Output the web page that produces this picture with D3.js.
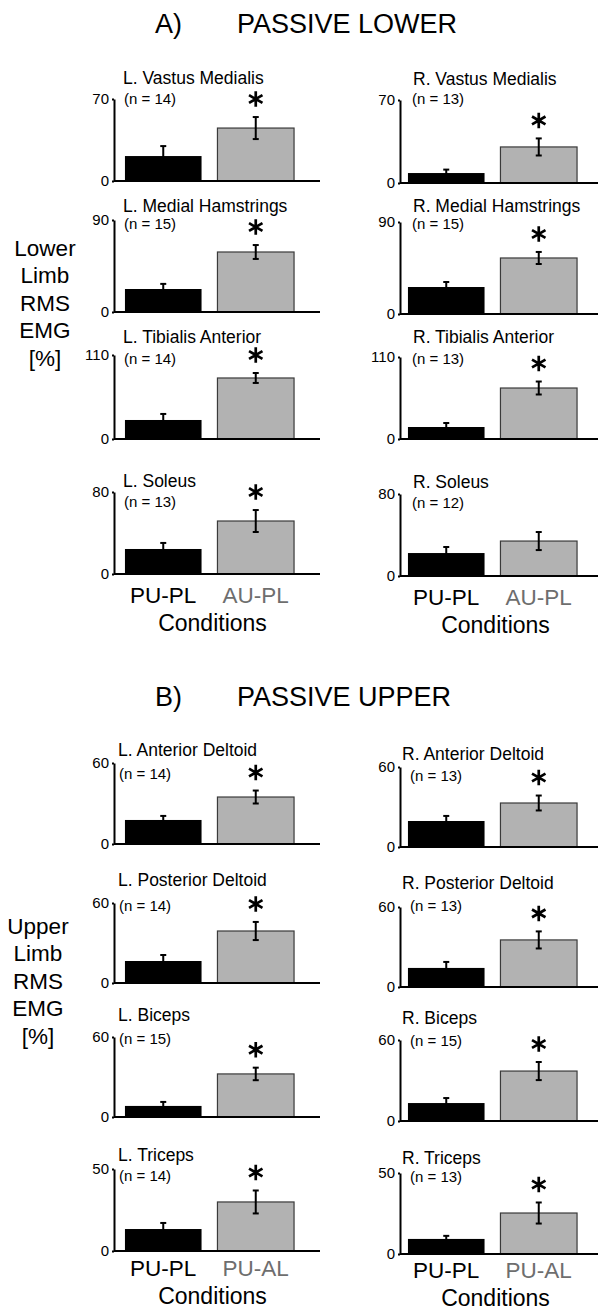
<!DOCTYPE html>
<html>
<head>
<meta charset="utf-8">
<script src="https://d3js.org/d3.v7.min.js"></script>
<style>
  body { margin: 0; background: #fff; }
  svg { display: block; font-family: "Liberation Sans", Arial, sans-serif; }
  .yAxis path, .yAxis line { stroke: #000; stroke-width: 2px; }
  .yAxis text { font-size: 15px; }
</style>
</head>
<body>
<svg id="chart" width="598" height="1311"></svg>
<script>
// ---- data (left column top to bottom, then right column top to bottom)
var lowerConditions = ["PU-PL", "AU-PL"];
var lowerMuscles = ["L. Vastus Medialis", "L. Medial Hamstrings", "L. Tibialis Anterior", "L. Soleus",
                    "R. Vastus Medialis", "R. Medial Hamstrings", "R. Tibialis Anterior", "R. Soleus"];
var lowerN = [14, 15, 14, 13, 13, 15, 13, 12];
var lowerMax = [70, 90, 110, 80, 70, 90, 110, 80];
var lowerPassive = [21.3, 22.5, 24.9, 24.4, 8.4, 26.4, 16.1, 22.4];
var lowerPassiveErr = [8.5, 5.0, 7.9, 5.9, 2.9, 4.9, 5.4, 5.9];
var lowerActive = [45.2, 58.7, 79.9, 51.7, 30.4, 54.8, 68.4, 34.1];
var lowerActiveErr = [9.4, 6.8, 6.5, 10.7, 7.2, 5.9, 8.7, 8.8];
var lowerSig = [true, true, true, true, true, true, true, false];

var upperConditions = ["PU-PL", "PU-AL"];
var upperMuscles = ["L. Anterior Deltoid", "L. Posterior Deltoid", "L. Biceps", "L. Triceps",
                    "R. Anterior Deltoid", "R. Posterior Deltoid", "R. Biceps", "R. Triceps"];
var upperN = [14, 14, 15, 14, 13, 13, 15, 13];
var upperMax = [60, 60, 60, 50, 60, 60, 60, 50];
var upperPassive = [17.8, 16.5, 8.3, 13.4, 19.5, 14.3, 13.3, 9.3];
var upperPassiveErr = [3.0, 4.5, 3.0, 3.7, 3.8, 4.5, 3.7, 1.9];
var upperActive = [34.8, 39.0, 32.3, 29.9, 33.0, 35.3, 37.0, 25.3];
var upperActiveErr = [4.8, 6.8, 4.7, 7.0, 5.6, 6.4, 6.7, 6.5];
var upperSig = [true, true, true, true, true, true, true, true];

// ---- layout
var svg = d3.select("#chart");
var columns = [
  {axisX: 114, range: [117, 302], lineEnd: 320},
  {axisX: 400, range: [400, 585], lineEnd: 598}
];
// per panel: top of y axis, baseline, title centre, n-text centre, title x, n x
var lowerLayout = [
  [99, 181, 78, 99, 123, 124], [220, 312, 206, 224, 123, 124],
  [355, 439, 337, 359, 123, 124], [492, 574, 481, 502, 123, 124],
  [100, 183, 79, 99, 413, 412], [222, 314, 206, 224, 413, 412],
  [357, 439, 337, 359, 413, 412], [494, 576, 482, 503, 413, 412]
];
var upperLayout = [
  [763, 844, 750, 774, 118, 119], [903, 983, 880, 906, 118, 119],
  [1037, 1117, 1015, 1039, 118, 119], [1169, 1251, 1155, 1176, 118, 119],
  [767, 847, 754, 776, 402, 410], [907, 987, 883, 906, 402, 410],
  [1040, 1121, 1018, 1041, 402, 410], [1173, 1254, 1158, 1177, 402, 410]
];

function drawPanel(i, muscles, nVals, maxVals, passive, passiveErr, active, activeErr, sig, conds, lay) {
  var col = columns[Math.floor(i / 4)];
  var L = lay[i];
  var x = d3.scaleBand().domain(conds).range(col.range).paddingInner(0.172).paddingOuter(0.086);
  var y = d3.scaleLinear().domain([0, maxVals[i]]).range([L[1], L[0]]);
  var g = svg.append("g");

  var bars = [
    {c: conds[0], v: passive[i], e: passiveErr[i]},
    {c: conds[1], v: active[i], e: activeErr[i]}
  ];

  g.selectAll("rect").data(bars).enter().append("rect")
    .attr("x", function(d) { return x(d.c); })
    .attr("y", function(d) { return y(d.v); })
    .attr("width", x.bandwidth())
    .attr("height", function(d) { return y(0) - y(d.v); })
    .attr("fill", function(d, k) { return k == 0 ? "#000" : "#b2b2b2"; })
    .attr("stroke", function(d, k) { return k == 0 ? "none" : "#3a3a3a"; })
    .attr("stroke-width", 1.2);

  // error bars
  bars.forEach(function(d) {
    var cx = x(d.c) + x.bandwidth() / 2;
    g.append("line").attr("x1", cx).attr("x2", cx)
      .attr("y1", y(d.v + d.e)).attr("y2", y(d.v - d.e))
      .attr("stroke", "#000").attr("stroke-width", 2);
    [d.v + d.e, d.v - d.e].forEach(function(v) {
      g.append("line").attr("x1", cx - 3).attr("x2", cx + 3)
        .attr("y1", y(v)).attr("y2", y(v))
        .attr("stroke", "#000").attr("stroke-width", 2);
    });
  });

  // baseline
  g.append("line").attr("x1", col.axisX).attr("x2", col.lineEnd)
    .attr("y1", y(0)).attr("y2", y(0))
    .attr("stroke", "#000").attr("stroke-width", 2);

  // y axis
  var ax = g.append("g")
    .attr("class", "yAxis")
    .attr("transform", "translate(" + col.axisX + ",0)")
    .call(d3.axisLeft(y).tickValues([0, maxVals[i]]).tickSizeInner(2).tickSizeOuter(0).tickPadding(3));
  ax.attr("font-size", 15).attr("font-family", "Liberation Sans, Arial, sans-serif");
  ax.selectAll(".tick text").attr("fill", "#000");

  g.append("text").text(muscles[i])
    .attr("x", L[4]).attr("y", L[2]).attr("dy", "0.35em")
    .style("font-size", "17.5px");
  g.append("text").text("(n = " + nVals[i] + ")")
    .attr("x", L[5]).attr("y", L[3]).attr("dy", "0.35em")
    .style("font-size", "15px");

  if (sig[i]) {
    var sx = x(conds[1]) + x.bandwidth() / 2;
    var sy = y(active[i] + activeErr[i]) - 18;
    var sym = d3.symbol().type(d3.symbolAsterisk || d3.symbolCross).size(170);
    g.append("path").attr("d", sym())
      .attr("transform", "translate(" + sx + "," + sy + ")")
      .attr("fill", "none").attr("stroke", "#000").attr("stroke-width", 2.7);
  }

  return x;
}

function drawSection(letter, name, headY, muscles, nVals, maxVals, passive, passiveErr, active, activeErr, sig, conds, lay, ylabelX, ylabelY, ylabelWords, condY) {
  svg.append("text").text(letter).attr("x", 155).attr("y", headY).style("font-size", "27px");
  svg.append("text").text(name).attr("x", 237).attr("y", headY).style("font-size", "27px");

  var scales = [];
  for (var i = 0; i < 8; i++) {
    scales.push(drawPanel(i, muscles, nVals, maxVals, passive, passiveErr, active, activeErr, sig, conds, lay));
  }

  ylabelWords.forEach(function(w, k) {
    svg.append("text").text(w)
      .attr("x", ylabelX).attr("y", ylabelY + k * 27.5).attr("dy", "0.35em")
      .attr("text-anchor", "middle").style("font-size", "22.5px");
  });

  // condition labels under bottom panels of each column
  [3, 7].forEach(function(p, c) {
    var x = scales[p];
    conds.forEach(function(cn, k) {
      svg.append("text").text(cn)
        .attr("x", x(cn) + x.bandwidth() / 2).attr("y", condY[c])
        .attr("text-anchor", "middle").style("font-size", "22.5px")
        .attr("fill", k == 0 ? "#000" : "#6e6e6e");
    });
    var r = x.range();
    svg.append("text").text("Conditions")
      .attr("x", (r[0] + r[1]) / 2 + 3).attr("y", condY[c] + 28)
      .attr("text-anchor", "middle").style("font-size", "23px");
  });
}

drawSection("A)", "PASSIVE LOWER", 33, lowerMuscles, lowerN, lowerMax, lowerPassive, lowerPassiveErr,
  lowerActive, lowerActiveErr, lowerSig, lowerConditions, lowerLayout,
  45, 248, ["Lower", "Limb", "RMS", "EMG", "[%]"], [603, 605]);

drawSection("B)", "PASSIVE UPPER", 706, upperMuscles, upperN, upperMax, upperPassive, upperPassiveErr,
  upperActive, upperActiveErr, upperSig, upperConditions, upperLayout,
  38, 926, ["Upper", "Limb", "RMS", "EMG", "[%]"], [1276, 1278]);
</script>
</body>
</html>
